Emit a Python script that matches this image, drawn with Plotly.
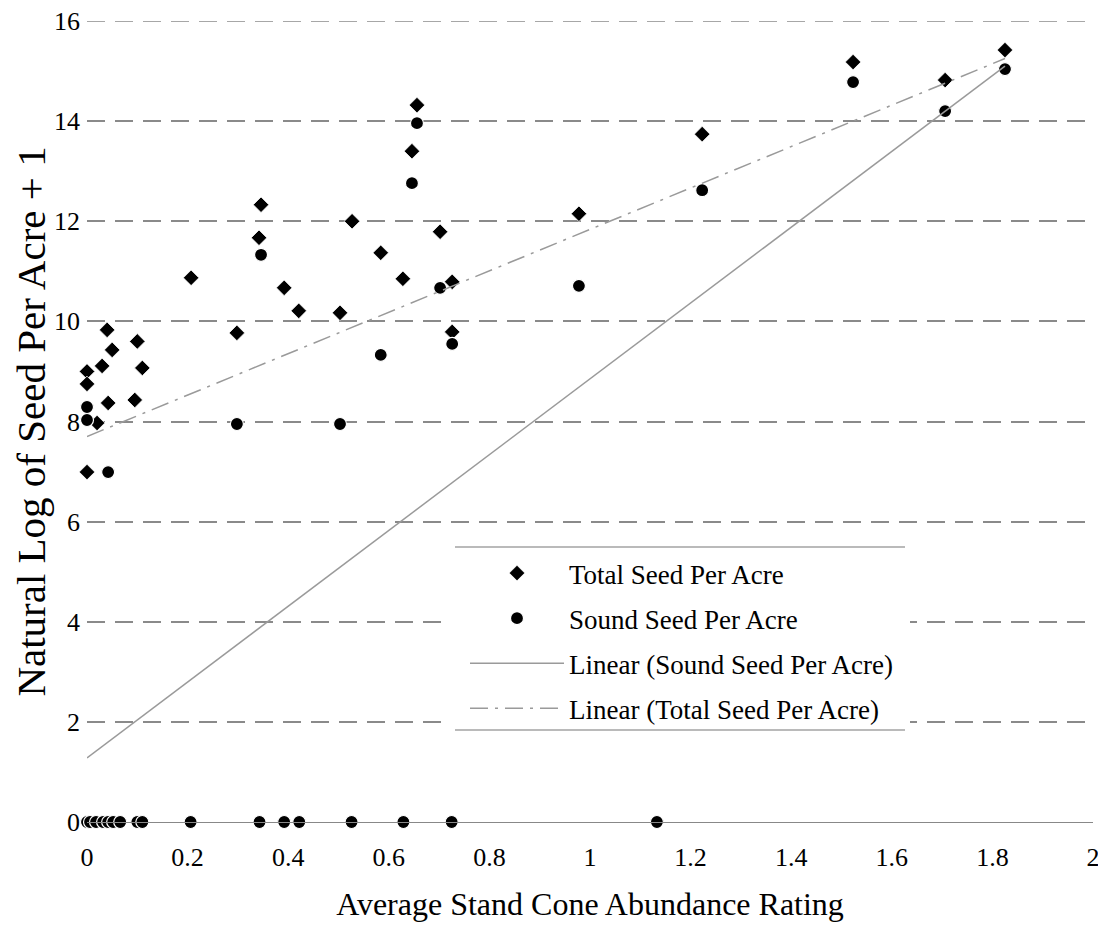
import plotly.graph_objects as go

# ---- data ----
total_x = [0.0, 0.0, 0.02, 0.0, 0.03, 0.04, 0.05, 0.042, 0.10, 0.11, 0.095,
           0.207, 0.298, 0.346, 0.342, 0.392, 0.421, 0.503, 0.527, 0.584,
           0.628, 0.646, 0.656, 0.702, 0.726, 0.726, 0.978, 1.223, 1.523,
           1.706, 1.825]
total_y = [9.0, 8.75, 7.97, 6.99, 9.11, 9.83, 9.43, 8.37, 9.6, 9.07, 8.43,
           10.87, 9.77, 12.33, 11.67, 10.67, 10.21, 10.17, 12.0, 11.37,
           10.85, 13.4, 14.32, 11.79, 10.79, 9.79, 12.15, 13.74, 15.18,
           14.82, 15.42]

sound_x = [0.0, 0.006, 0.018, 0.032, 0.042, 0.052, 0.066, 0.10, 0.11, 0.206,
           0.343, 0.392, 0.422, 0.526, 0.629, 0.725, 1.133,
           0.0, 0.0, 0.042, 0.298, 0.346, 0.503, 0.584, 0.646, 0.656, 0.702,
           0.726, 0.978, 1.223, 1.523, 1.706, 1.825]
sound_y = [0, 0, 0, 0, 0, 0, 0, 0, 0, 0,
           0, 0, 0, 0, 0, 0, 0,
           8.29, 8.03, 6.99, 7.95, 11.33, 7.95, 9.33, 12.76, 13.96, 10.67,
           9.55, 10.71, 12.62, 14.78, 14.2, 15.04]

trend_x = [0.0, 1.825]
sound_trend_y = [1.28, 15.10]
total_trend_y = [7.70, 15.25]

x_ticks = [0, 0.2, 0.4, 0.6, 0.8, 1.0, 1.2, 1.4, 1.6, 1.8, 2.0]
x_tick_text = ["0", "0.2", "0.4", "0.6", "0.8", "1", "1.2", "1.4", "1.6", "1.8", "2"]
y_ticks = [0, 2, 4, 6, 8, 10, 12, 14, 16]

FONT = "Liberation Serif, Times New Roman, serif"
GRID = "#8a8a8a"
TREND = "#9a9a9a"
GRID_DASH = "18px,10px"

# page offset (default body margin) and target plot area in page pixels
OFF = 8
FIG_W, FIG_H = 1098, 925
L, R, T, B = 87, 1093, 21, 822
PW, PH = R - L, B - T


def px_x(p):
    return (p - L) / PW


def px_y(p):
    return (B - p) / PH


fig = go.Figure()

fig.add_trace(go.Scatter(
    x=total_x, y=total_y, mode="markers", name="Total Seed Per Acre",
    legendgroup="a", cliponaxis=False,
    marker=dict(symbol="diamond", size=12, color="black",
                line=dict(color="white", width=0.8))))
fig.add_trace(go.Scatter(
    x=sound_x, y=sound_y, mode="markers", name="Sound Seed Per Acre",
    legendgroup="b", cliponaxis=False,
    marker=dict(symbol="circle", size=13, color="black",
                line=dict(color="white", width=1.2))))
fig.add_trace(go.Scatter(
    x=trend_x, y=sound_trend_y, mode="lines", name="Linear (Sound Seed Per Acre)",
    legendgroup="c", line=dict(color=TREND, width=1.5)))
fig.add_trace(go.Scatter(
    x=trend_x, y=total_trend_y, mode="lines", name="Linear (Total Seed Per Acre)",
    legendgroup="d", line=dict(color=TREND, width=1.5, dash="18px,7px,3px,7px")))

# top gridline (at the range edge)
fig.add_shape(type="line", xref="paper", yref="y", x0=0, x1=1, y0=16, y1=16,
              line=dict(color=GRID, width=1.5, dash=GRID_DASH), layer="below")

# legend background + top/bottom rules
LEG_TOP, LEG_BOT = 547, 730
fig.add_shape(type="rect", xref="paper", yref="paper",
              x0=px_x(445), x1=px_x(910), y0=px_y(LEG_BOT + 2), y1=px_y(LEG_TOP),
              fillcolor="white", line=dict(width=0), layer="above")
for yy in (LEG_TOP, LEG_BOT):
    fig.add_shape(type="line", xref="paper", yref="paper",
                  x0=px_x(455), x1=px_x(905), y0=px_y(yy), y1=px_y(yy),
                  line=dict(color="#777777", width=1.2), layer="above")

fig.update_layout(
    width=FIG_W, height=FIG_H,
    margin=dict(l=L - OFF, r=FIG_W - (R - OFF), t=T - OFF, b=FIG_H - (B - OFF)),
    paper_bgcolor="white", plot_bgcolor="white",
    font=dict(family=FONT, size=26, color="black"),
    showlegend=True,
    legend=dict(x=px_x(465), y=px_y(549), xanchor="left", yanchor="top",
                bgcolor="rgba(0,0,0,0)", borderwidth=0,
                font=dict(family=FONT, size=27, color="black"),
                tracegroupgap=7, itemwidth=94, traceorder="grouped"),
    xaxis=dict(range=[0, 2], tickvals=x_ticks, ticktext=x_tick_text,
               showgrid=False, zeroline=False, showline=True,
               linecolor="#888888", linewidth=1.2, ticks="",
               automargin=False, ticklabelstandoff=12,
               ticklabeloverflow="allow",
               tickfont=dict(family=FONT, size=26),
               title=dict(text="Average Stand Cone Abundance Rating",
                          font=dict(family=FONT, size=32), standoff=21)),
    yaxis=dict(range=[0, 16], tickvals=y_ticks, showgrid=True,
               gridcolor=GRID, gridwidth=1.5, griddash=GRID_DASH,
               zeroline=False, showline=False, ticks="",
               automargin=False, ticklabelstandoff=6,
               ticklabeloverflow="allow",
               tickfont=dict(family=FONT, size=26),
               title=dict(text="Natural Log of Seed Per Acre + 1",
                          font=dict(family=FONT, size=41), standoff=7)),
)

fig.write_html("out.html")
